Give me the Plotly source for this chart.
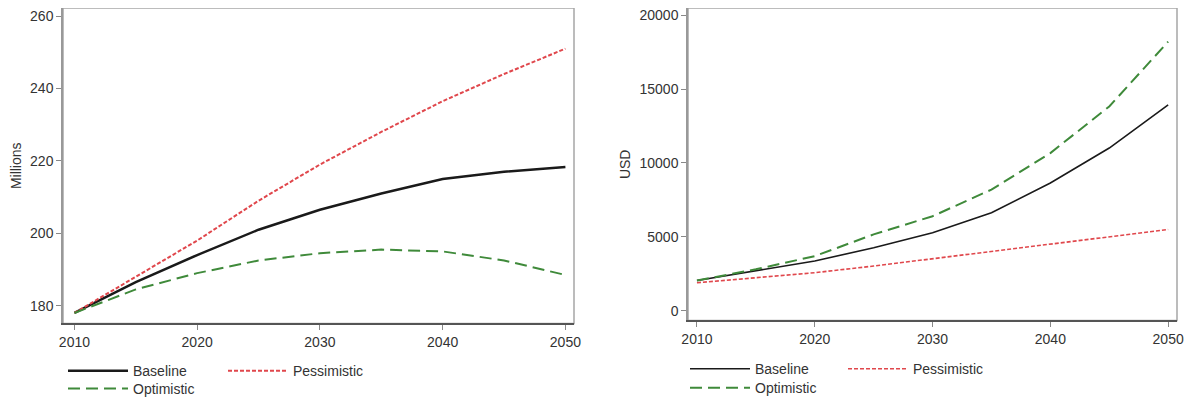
import plotly.graph_objects as go

# Scenario projections, 2010-2050
years = [2010, 2015, 2020, 2025, 2030, 2035, 2040, 2045, 2050]

pop_baseline = [178.0, 186.5, 194.0, 201.0, 206.5, 211.0, 215.0, 217.0, 218.3]
pop_optimistic = [178.0, 184.5, 189.0, 192.5, 194.5, 195.5, 195.0, 192.5, 188.5]
pop_pessimistic = [178.0, 188.0, 198.0, 209.0, 219.0, 228.0, 236.5, 244.0, 251.0]

usd_baseline = [2050, 2700, 3370, 4270, 5280, 6630, 8650, 11010, 13930]
usd_optimistic = [2050, 2810, 3700, 5170, 6400, 8200, 10670, 13820, 18200]
usd_pessimistic = [1900, 2250, 2580, 3030, 3530, 4000, 4490, 5010, 5500]

x_ticks = [2010, 2020, 2030, 2040, 2050]
pop_ticks = [180, 200, 220, 240, 260]
usd_ticks = [0, 5000, 10000, 15000, 20000]
usd_tick_labels = ['0', '5000', '10000', '15000', '20000']

# Colors / styles
black = '#1a1a1a'
red = '#e0474c'
green = '#3f8a3a'
text_color = '#333333'
frame_color = '#a6a6a6'
font_family = 'Liberation Sans, Arial, sans-serif'
font_size = 14

fig = go.Figure()


def add_panel(fig, xa, ya, base, opt, pess, legends, widths):
    # legends: (row-1 legend, row-2 legend); Optimistic sits on the second row
    fig.add_trace(go.Scatter(
        x=years, y=base, name='Baseline', mode='lines',
        xaxis=xa, yaxis=ya, legend=legends[0],
        line=dict(color=black, width=widths[0]),
    ))
    fig.add_trace(go.Scatter(
        x=years, y=pess, name='Pessimistic', mode='lines',
        xaxis=xa, yaxis=ya, legend=legends[0],
        line=dict(color=red, width=widths[1], dash='4px,2px'),
    ))
    fig.add_trace(go.Scatter(
        x=years, y=opt, name='Optimistic', mode='lines',
        xaxis=xa, yaxis=ya, legend=legends[1],
        line=dict(color=green, width=widths[2], dash='12px,6px'),
    ))


add_panel(fig, 'x', 'y', pop_baseline, pop_optimistic, pop_pessimistic,
          ('legend', 'legend2'), (2.5, 2, 2))
add_panel(fig, 'x2', 'y2', usd_baseline, usd_optimistic, usd_pessimistic,
          ('legend3', 'legend4'), (1.6, 1.6, 2))

# the page body has an 8px margin, so the figure starts 8px in;
# positions below are given in window pixels
BODY = 8
W, H = 1193 - BODY, 405 - BODY
Y_SQUEEZE = 0.985  # the photo comes out slightly squashed vertically


def px_x(p):
    return (p - BODY) / W


def px_y(p):
    return min(1.0, 1 - (p / Y_SQUEEZE - BODY) / H)


axis_common = dict(
    showgrid=False,
    zeroline=False,
    automargin=False,  # domains are set by hand, don't let plotly push margins
    ticklabeloverflow='allow',
    ticks='outside',
    ticklen=5,
    tickwidth=1,
    tickcolor='#888888',
    tickfont=dict(size=font_size, color=text_color, family=font_family),
)

xaxis_common = dict(
    axis_common,
    tickvals=x_ticks,
    showline=True,
    linecolor='#555555',
    linewidth=2,
)

yaxis_common = dict(
    axis_common,
    showline=True,
    linecolor='#999999',
    linewidth=1.5,
    title_font=dict(size=font_size, color=text_color, family=font_family),
)

legend_common = dict(
    orientation='h',
    bgcolor='rgba(0,0,0,0)',
    font=dict(size=font_size, color=text_color, family=font_family),
    xanchor='left',
    yanchor='middle',
    entrywidthmode='pixels',
    itemwidth=60,
    tracegroupgap=0,
)

fig.update_layout(
    width=W,
    height=H,
    margin=dict(l=0, r=0, t=0, b=0),
    paper_bgcolor='white',
    plot_bgcolor='white',
    font=dict(family=font_family, color=text_color),
    showlegend=True,
    xaxis=dict(xaxis_common, domain=[px_x(63), px_x(574)], range=[2009.07, 2050.7], anchor='y'),
    yaxis=dict(yaxis_common, domain=[px_y(325), px_y(8)], range=[175.1, 262.2],
               tickvals=pop_ticks, anchor='x',
               title=dict(text='Millions', standoff=6)),
    xaxis2=dict(xaxis_common, domain=[px_x(688), px_x(1177)], range=[2009.24, 2050.75], anchor='y2'),
    yaxis2=dict(yaxis_common, domain=[px_y(322), px_y(8)], range=[-650, 20470],
                tickvals=usd_ticks, ticktext=usd_tick_labels, anchor='x2',
                title=dict(text='USD', standoff=6)),
    legend=dict(legend_common, x=px_x(63), y=px_y(373), entrywidth=85),
    legend2=dict(legend_common, x=px_x(63), y=px_y(391), entrywidth=85),
    legend3=dict(legend_common, x=px_x(685), y=px_y(371), entrywidth=83),
    legend4=dict(legend_common, x=px_x(685), y=px_y(390), entrywidth=83),
)

# light frame around each plot area
for xd, yd in (('x domain', 'y domain'), ('x2 domain', 'y2 domain')):
    fig.add_shape(type='rect', xref=xd, yref=yd, x0=0, x1=1, y0=0, y1=1,
                  line=dict(color=frame_color, width=1.5), layer='below')

fig.write_html("out.html")
